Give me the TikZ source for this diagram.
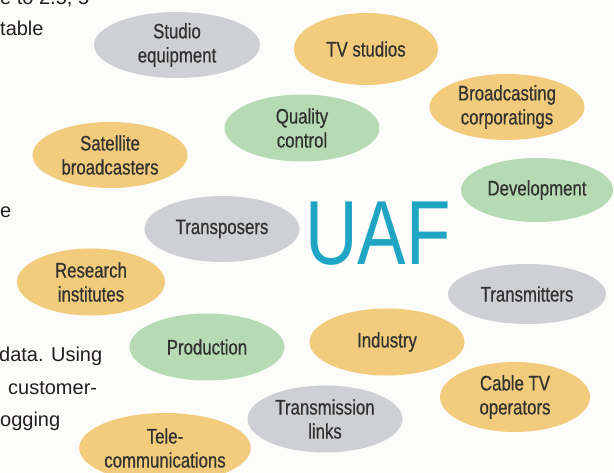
\documentclass[tikz,border=0pt]{standalone}
\usepackage{fontspec}
\setmainfont{Liberation Sans}
\newfontfamily\condfont[FakeStretch=0.8,FakeBold=0.6]{Liberation Sans}
\newfontfamily\uaffont[FakeStretch=0.8]{Liberation Sans}
\usetikzlibrary{shapes.geometric}
\definecolor{orgfill}{RGB}{242,203,125}
\definecolor{grayfill}{RGB}{206,208,211}
\definecolor{greenfill}{RGB}{182,219,180}
\definecolor{elltext}{RGB}{50,50,48}
\definecolor{bodytext}{RGB}{35,31,32}
\definecolor{uafblue}{RGB}{31,165,195}
\definecolor{bgcol}{RGB}{252,252,250}
\tikzset{
  ell/.style={ellipse, inner sep=0pt, minimum width=155pt, minimum height=66pt,
    align=center, text=elltext, font=\condfont\fontsize{21}{24}\selectfont},
  orangeell/.style={ell, fill=orgfill},
  grayell/.style={ell, fill=grayfill},
  greenell/.style={ell, fill=greenfill},
  bodyline/.style={anchor=base west, inner sep=0pt, text=bodytext,
    font=\fontsize{20}{24}\selectfont},
  bigtitle/.style={anchor=base west, inner sep=0pt, text=uafblue,
    font=\uaffont\fontsize{91}{91}\selectfont}
}
\begin{document}
\begin{tikzpicture}[x=1pt,y=-1pt]
\useasboundingbox (0,0) rectangle (614,473);
\clip (0,0) rectangle (614,473);
\fill[bgcol] (0,0) rectangle (614,473);
% background body text fragments
\node[bodyline] (b1) at (0,5) {e to 2.5, 5};
\node[bodyline] (b2) at (0,36) {table};
\node[bodyline] (b3) at (0,218) {e};
\node[bodyline] (b4) at (-1,362) {data. Using};
\node[bodyline] (b5) at (8,395) {customer-};
\node[bodyline] (b6) at (0,427) {ogging};
% ellipses
\node[grayell, minimum width=166pt] (studio) at (177,45) {Studio\\equipment};
\node[orangeell, minimum width=144pt, minimum height=72pt] (tv) at (366,49) {TV studios};
\node[orangeell] (broad) at (507,107) {Broadcasting\\corporatings};
\node[greenell, minimum height=67pt] (quality) at (302,128) {Quality\\control};
\node[orangeell] (sat) at (110,155) {Satellite\\broadcasters};
\node[greenell, minimum width=152pt, minimum height=64pt] (dev) at (537,190) {Development};
\node[grayell] (transp) at (222,229) {Transposers};
\node[grayell, minimum width=158pt, minimum height=60pt] (transm) at (527,294) {Transmitters};
\node[orangeell, minimum width=148pt, minimum height=67pt] (research) at (91,282) {Research\\institutes};
\node[greenell, minimum height=67pt] (prod) at (207,347) {Production};
\node[orangeell, minimum height=67pt] (industry) at (387,342) {Industry};
\node[orangeell, minimum width=150pt, minimum height=70pt] (cable) at (515,397) {Cable TV\\operators};
\node[grayell, minimum height=67pt] (links) at (325,419) {Transmission\\links};
\node[orangeell, minimum width=156pt, minimum height=70pt] (tele) at (165,448) {Tele-\\communications};
% title
\node[bigtitle] (uaf) at (305,265) {UAF};
\end{tikzpicture}
\end{document}
